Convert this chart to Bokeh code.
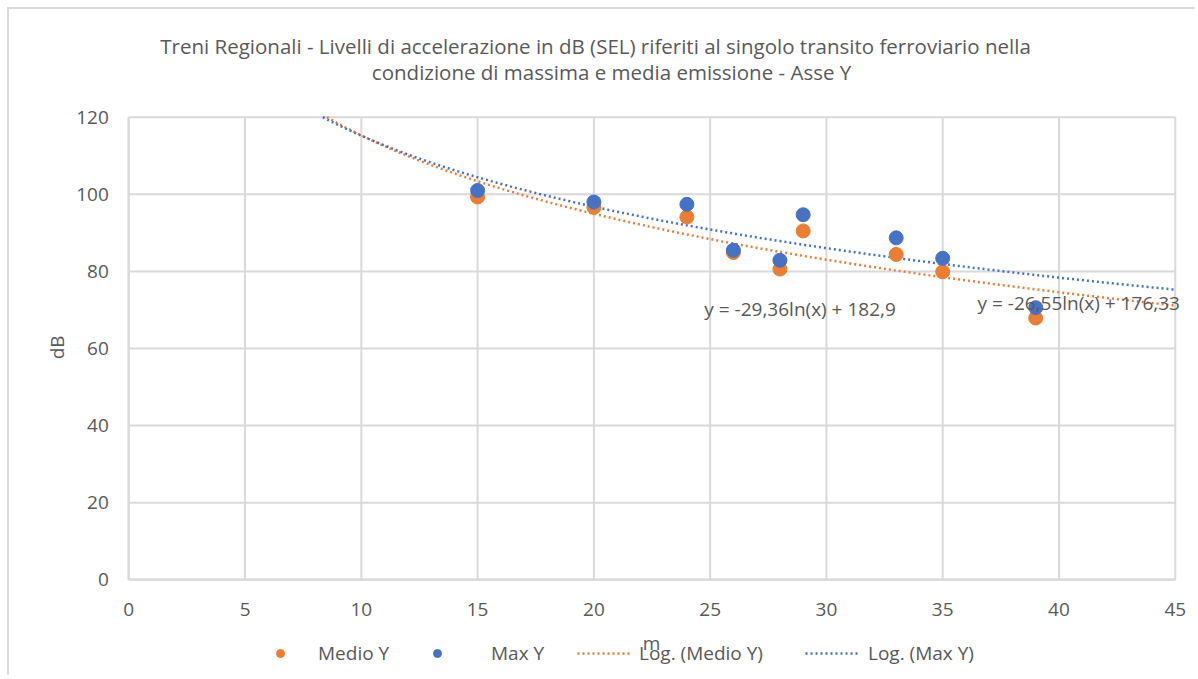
import numpy as np
from bokeh.plotting import figure
from bokeh.models import Label, Legend, LegendItem, ColumnDataSource, FixedTicker, Range1d
from bokeh.embed import file_html
from bokeh.resources import INLINE

# Data
distance_m = [15, 20, 24, 26, 28, 29, 33, 35, 39]
medio_y = [99.3, 96.6, 94.1, 84.9, 80.6, 90.5, 84.4, 79.9, 67.9]
max_y = [101.0, 98.0, 97.4, 85.5, 82.9, 94.7, 88.7, 83.4, 70.6]

# Trendline coefficients (as displayed): y = a*ln(x) + b
medio_a, medio_b = -29.36, 182.9
max_a, max_b = -26.55, 176.33
eq_medio = "y = -29,36ln(x) + 182,9"
eq_max = "y = -26,55ln(x) + 176,33"

x_ticks = [0, 5, 10, 15, 20, 25, 30, 35, 40, 45]
y_ticks = [0, 20, 40, 60, 80, 100, 120]
X_MAX, Y_MAX = 45, 120

title_lines = ["Treni Regionali - Livelli di accelerazione in dB (SEL) riferiti al singolo transito ferroviario nella",
               "condizione di massima e media emissione - Asse Y"]

ORANGE = "#ED7D31"
BLUE = "#4472C4"
GRID = "#D9D9D9"
TXT = "#595959"
FONT = "Open Sans"
FS = "19px"

W, H = 1188, 668
p = figure(width=W, height=H, output_backend="svg", toolbar_location=None, title=None,
           x_range=Range1d(-5.130, 45.957), y_range=Range1d(-25.34, 147.94),
           min_border_left=0, min_border_right=0, min_border_top=0, min_border_bottom=0)
p.styles = {"margin-left": "7px", "margin-top": "7px",
            "border-left": "2px solid #D9D9D9", "border-top": "2px solid #D9D9D9"}
p.outline_line_color = None
p.xgrid.visible = False
p.ygrid.visible = False

# Gridlines of the plot area (bounded to the value/category extents)
nx, ny = len(x_ticks), len(y_ticks)
p.segment(x0=x_ticks, y0=[0] * nx, x1=x_ticks, y1=[Y_MAX] * nx, line_color=GRID, line_width=2)
p.segment(x0=[0] * ny, y0=y_ticks, x1=[X_MAX] * ny, y1=y_ticks, line_color=GRID, line_width=2)

p.xaxis.fixed_location = 0
p.yaxis.fixed_location = 0
p.xaxis.bounds = (0, X_MAX)
p.yaxis.bounds = (0, Y_MAX)
p.xaxis.ticker = FixedTicker(ticks=x_ticks)
p.yaxis.ticker = FixedTicker(ticks=y_ticks)
for ax in (p.xaxis, p.yaxis):
    ax.axis_line_color = GRID
    ax.axis_line_width = 2
    ax.major_tick_line_color = None
    ax.minor_tick_line_color = None
    ax.major_label_text_font = FONT
    ax.major_label_text_font_size = FS
    ax.major_label_text_color = TXT
p.xaxis.major_label_standoff = 17
p.yaxis.major_label_standoff = 14

# Title (two lines), placed in the chart area above the plot
for t, (tx, ty) in zip(title_lines, ((20.07, 138.6), (20.76, 131.6))):
    p.add_layout(Label(x=tx, y=ty, text=t, text_font=FONT, text_font_size="20.5px",
                       text_color=TXT, text_align="center", text_baseline="middle"))

# Axis titles
p.add_layout(Label(x=22.48, y=-16.3, text="m", text_font=FONT, text_font_size=FS,
                   text_color=TXT, text_align="center", text_baseline="middle"))
p.add_layout(Label(x=-3.07, y=60.3, text="dB", angle=np.pi / 2, text_font=FONT, text_font_size=FS,
                   text_color=TXT, text_align="center", text_baseline="middle"))

# Trendlines (clipped at the top of the value axis)
def trend_xs(a, b):
    x0 = np.exp((Y_MAX - b) / a)
    return np.linspace(x0, X_MAX, 300)

xs_m = trend_xs(medio_a, medio_b)
xs_x = trend_xs(max_a, max_b)
tl_medio = p.line(xs_m, medio_a * np.log(xs_m) + medio_b, line_color=ORANGE, line_width=2.5, line_dash="2 3")
tl_max = p.line(xs_x, max_a * np.log(xs_x) + max_b, line_color=BLUE, line_width=2.5, line_dash="2 3")

src = ColumnDataSource(dict(x=distance_m, medio=medio_y, mx=max_y))
r_medio = p.scatter("x", "medio", source=src, size=14, fill_color=ORANGE, line_color=ORANGE)
r_max = p.scatter("x", "mx", source=src, size=14, fill_color=BLUE, line_color=BLUE)

# Equation labels
p.add_layout(Label(x=24.75, y=70.2, text=eq_medio, text_font=FONT, text_font_size=FS,
                   text_color=TXT, text_baseline="middle"))
p.add_layout(Label(x=36.5, y=71.8, text=eq_max, text_font=FONT, text_font_size=FS,
                   text_color=TXT, text_baseline="middle"))

# Legend entries, one small legend per entry for Excel-like spacing
entries = [("Medio Y", r_medio, 261, 20, 28),
           ("Max Y", r_max, 418, 20, 44),
           ("Log. (Medio Y)", tl_medio, 568, 54, 8),
           ("Log. (Max Y)", tl_max, 796, 55, 8)]
for lab, rend, lx, gw, so in entries:
    lg = Legend(items=[LegendItem(label=lab, renderers=[rend])], location=(lx, 11),
                glyph_width=gw, glyph_height=20, label_height=20, label_standoff=so,
                padding=0, margin=0, border_line_color=None, background_fill_alpha=0,
                label_text_font=FONT, label_text_font_size=FS, label_text_color=TXT)
    p.add_layout(lg, "center")

open("out.html", "w").write(file_html(p, INLINE))
